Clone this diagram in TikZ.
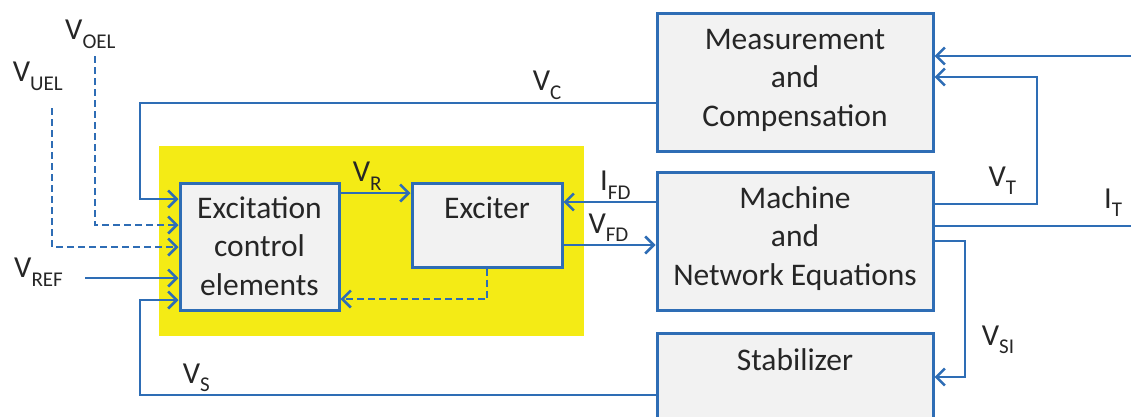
\documentclass[tikz,border=0pt]{standalone}
\usepackage{fontspec}
\setmainfont{Carlito}
\usetikzlibrary{arrows.meta}
\definecolor{wire}{HTML}{2E6DB5}
\definecolor{hilite}{HTML}{F4EB15}
\definecolor{blockfill}{HTML}{F2F2F2}
\definecolor{ink}{HTML}{262626}
% signal name with a lowered subscript
\newcommand\sigl[2]{#1\raisebox{-8.5pt}{\fontsize{21}{21}\selectfont #2}}
\tikzset{
  blk/.style={draw=wire, line width=3pt, fill=blockfill, inner sep=0pt},
  blktext/.style={text=ink, align=center, anchor=base, inner sep=0pt,
    font=\fontsize{31.5}{38.5}\selectfont},
  siglabel/.style={text=ink, anchor=base west, inner sep=0pt,
    font=\fontsize{30.5}{36}\selectfont},
  conn/.style={draw=wire, line width=2.8pt, line join=miter},
  arr/.style={-{Straight Barb[length=8.5pt,width=17pt,line width=2.6pt]}},
  dashedconn/.style={conn, dash pattern=on 7pt off 4pt},
}
\begin{document}
\begin{tikzpicture}[x=1pt,y=-1pt]
\useasboundingbox (0,0) rectangle (1131,416);
\clip (0,0) rectangle (1131,416);

% highlighted excitation system
\fill[hilite] (159,146) rectangle (584,336);

% blocks
\node[blk, minimum width=159pt, minimum height=127pt] (ece)  at (259.5,246.5) {};
\node[blk, minimum width=150pt, minimum height=84pt]  (exc)  at (487,225) {};
\node[blk, minimum width=276pt, minimum height=138pt] (meas) at (795,82) {};
\node[blk, minimum width=276pt, minimum height=138pt] (mach) at (795,241) {};
\node[blk, minimum width=276pt, minimum height=110pt] (stab) at (795,388) {};

% block captions (base anchor sits on the last line)
\node[blktext] (ecetext)  at (259.5,295.3) {Excitation\\control\\elements};
\node[blktext] (exctext)  at (487,218.3) {Exciter};
\node[blktext] (meastext) at (795,126) {Measurement\\and\\Compensation};
\node[blktext] (machtext) at (795,285) {Machine\\and\\Network Equations};
\node[blktext] (stabtext) at (795,370) {Stabilizer};

% connector levels and bends
\coordinate (y56) at (0,56);   \coordinate (y77) at (0,77);
\coordinate (y103) at (0,103); \coordinate (y193) at (0,193);
\coordinate (y199) at (0,199); \coordinate (y202) at (0,202);
\coordinate (y204) at (0,204); \coordinate (y225) at (0,225);
\coordinate (y226) at (0,226); \coordinate (y241) at (0,241);
\coordinate (y245) at (0,245); \coordinate (y247) at (0,247);
\coordinate (y278) at (0,278); \coordinate (y299) at (0,299);
\coordinate (y300) at (0,300); \coordinate (y377) at (0,377);
\coordinate (y395) at (0,395);
\coordinate (oelsrc) at (95,56);
\coordinate (uelsrc) at (52,108);
\coordinate (refsrc) at (85,278);
\coordinate (itsrc)  at (1131,56);
\coordinate (itout)  at (1131,226);
\coordinate (vcbend) at (140,103);
\coordinate (vsbend) at (140,395);
\coordinate (vtbend) at (1037,204);
\coordinate (vsibend) at (965,241);
\coordinate (fbbend) at (487,299);

% feedback and reference inputs to the excitation control elements
\draw[conn,arr] (meas.west |- y103) -- (vcbend) |- (ece.west |- y199);
\draw[dashedconn,arr] (oelsrc) |- (ece.west |- y225);
\draw[dashedconn,arr] (uelsrc) |- (ece.west |- y247);
\draw[conn,arr] (refsrc) -- (ece.west |- y278);
\draw[conn,arr] (stab.west |- y395) -- (vsbend) |- (ece.west |- y300);

% excitation system internals
\draw[conn,arr] (ece.east |- y193) -- (exc.west |- y193);
\draw[dashedconn,arr] (exc.south) -- (fbbend) -- (ece.east |- y299);

% exciter <-> machine
\draw[conn,arr] (mach.west |- y202) -- (exc.east |- y202);
\draw[conn,arr] (exc.east |- y245) -- (mach.west |- y245);

% machine outputs
\draw[conn,arr] (itsrc) -- (meas.east |- y56);
\draw[conn,arr] (mach.east |- y204) -- (vtbend) |- (meas.east |- y77);
\draw[conn] (mach.east |- y226) -- (itout);
\draw[conn,arr] (mach.east |- y241) -- (vsibend) |- (stab.east |- y377);

% signal labels
\node[siglabel] (lvoel) at (65,39.5)    {\sigl{V}{OEL}};
\node[siglabel] (lvuel) at (12.7,81.7)  {\sigl{V}{UEL}};
\node[siglabel] (lvref) at (14,277.7)   {\sigl{V}{REF}};
\node[siglabel] (lvs)   at (182.7,383)  {\sigl{V}{S}};
\node[siglabel] (lvr)   at (352.7,181.7){\sigl{V}{R}};
\node[siglabel] (lvc)   at (532.7,90.7) {\sigl{V}{C}};
\node[siglabel] (lifd)  at (600,190.7)  {\sigl{I}{FD}};
\node[siglabel] (lvfd)  at (588.3,233.3){\sigl{V}{FD}};
\node[siglabel] (lvt)   at (988.3,186)  {\sigl{V}{T}};
\node[siglabel] (lit)   at (1104,208)   {\sigl{I}{T}};
\node[siglabel] (lvsi)  at (981.7,345)  {\sigl{V}{SI}};
\end{tikzpicture}
\end{document}
